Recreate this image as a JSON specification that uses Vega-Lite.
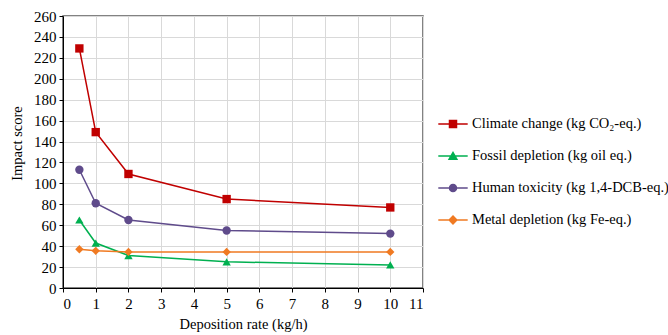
{
  "$schema": "https://vega.github.io/schema/vega-lite/v6.json",
  "width": 360,
  "height": 272,
  "autosize": {"type": "none"},
  "padding": {"left": 63, "top": 16, "right": 245, "bottom": 47},
  "background": "white",
  "config": {
    "font": "Liberation Serif",
    "view": {"stroke": "#595959", "strokeWidth": 1.5},
    "axis": {
      "labelFont": "Liberation Serif", "titleFont": "Liberation Serif",
      "labelFontSize": 15, "titleFontSize": 14.5, "titleFontWeight": "normal",
      "labelColor": "#000", "titleColor": "#000",
      "domainColor": "#000", "tickColor": "#000", "tickSize": 4,
      "gridColor": "#d9d9d9", "gridWidth": 1
    },
    "legend": {"labelFont": "Liberation Serif", "labelFontSize": 14.5, "labelColor": "#000", "labelLimit": 0}
  },
  "data": {"values": [
    {"rate": 0.5, "score": 229, "cat": "Climate change (kg CO₂-eq.)"},
    {"rate": 1, "score": 149, "cat": "Climate change (kg CO₂-eq.)"},
    {"rate": 2, "score": 109, "cat": "Climate change (kg CO₂-eq.)"},
    {"rate": 5, "score": 85, "cat": "Climate change (kg CO₂-eq.)"},
    {"rate": 10, "score": 77, "cat": "Climate change (kg CO₂-eq.)"},
    {"rate": 0.5, "score": 65, "cat": "Fossil depletion (kg oil eq.)"},
    {"rate": 1, "score": 43, "cat": "Fossil depletion (kg oil eq.)"},
    {"rate": 2, "score": 31, "cat": "Fossil depletion (kg oil eq.)"},
    {"rate": 5, "score": 25, "cat": "Fossil depletion (kg oil eq.)"},
    {"rate": 10, "score": 22, "cat": "Fossil depletion (kg oil eq.)"},
    {"rate": 0.5, "score": 113, "cat": "Human toxicity (kg 1,4-DCB-eq.)"},
    {"rate": 1, "score": 81, "cat": "Human toxicity (kg 1,4-DCB-eq.)"},
    {"rate": 2, "score": 65, "cat": "Human toxicity (kg 1,4-DCB-eq.)"},
    {"rate": 5, "score": 55, "cat": "Human toxicity (kg 1,4-DCB-eq.)"},
    {"rate": 10, "score": 52, "cat": "Human toxicity (kg 1,4-DCB-eq.)"},
    {"rate": 0.5, "score": 37, "cat": "Metal depletion (kg Fe-eq.)"},
    {"rate": 1, "score": 35.5, "cat": "Metal depletion (kg Fe-eq.)"},
    {"rate": 2, "score": 34.5, "cat": "Metal depletion (kg Fe-eq.)"},
    {"rate": 5, "score": 34.5, "cat": "Metal depletion (kg Fe-eq.)"},
    {"rate": 10, "score": 34.5, "cat": "Metal depletion (kg Fe-eq.)"}
  ]},
  "encoding": {
    "x": {"field": "rate", "type": "quantitative", "title": "Deposition rate (kg/h)",
      "scale": {"domain": [0, 11], "nice": false},
      "axis": {"values": [0,1,2,3,4,5,6,7,8,9,10,11], "titlePadding": 6, "labelPadding": 4}},
    "y": {"field": "score", "type": "quantitative", "title": "Impact score",
      "scale": {"domain": [0, 260], "nice": false},
      "axis": {"values": [0,20,40,60,80,100,120,140,160,180,200,220,240,260], "titlePadding": 9, "labelPadding": 3, "titleY": 127}},
    "color": {"field": "cat", "type": "nominal",
      "scale": {"range": ["#c00000", "#00b050", "#5f4b8b", "#f07a22"]},
      "legend": {"title": null, "orient": "none", "legendX": 376, "legendY": 100,
        "labelFont": "Liberation Serif", "labelFontSize": 14.5, "labelLimit": 0,
        "symbolSize": 196, "symbolStrokeWidth": 1.5, "labelOffset": 17, "rowPadding": 17,
        "encode": {
          "symbols": {"update": {
          "shape": {"signal": "datum.value === 'Climate change (kg CO₂-eq.)' ? 'M-2.1,0H2.1M-0.5,-0.5H0.5V0.5H-0.5Z' : datum.value === 'Fossil depletion (kg oil eq.)' ? 'M-2.1,0H2.1M-0.55,0.45L0,-0.5L0.55,0.45Z' : datum.value === 'Human toxicity (kg 1,4-DCB-eq.)' ? 'M-2.1,0H2.1M-0.5,0A0.5,0.5 0 1,0 0.5,0A0.5,0.5 0 1,0 -0.5,0Z' : 'M-2.1,0H2.1M0,-0.55L0.55,0L0,0.55L-0.55,0Z'"},
          "stroke": {"scale": "color", "field": "value"},
          "fill": {"scale": "color", "field": "value"},
          "strokeWidth": {"value": 1.5},
          "xc": {"value": 14}
        }}}
      }}
  },
  "layer": [
    {"mark": {"type": "line", "strokeWidth": 1.5}},
    {"mark": {"type": "point", "filled": true, "opacity": 1, "size": 70},
     "encoding": {
       "shape": {"field": "cat", "type": "nominal",
         "scale": {"range": ["square", "triangle-up", "circle", "diamond"]}, "legend": null}
     }}
  ]
}
